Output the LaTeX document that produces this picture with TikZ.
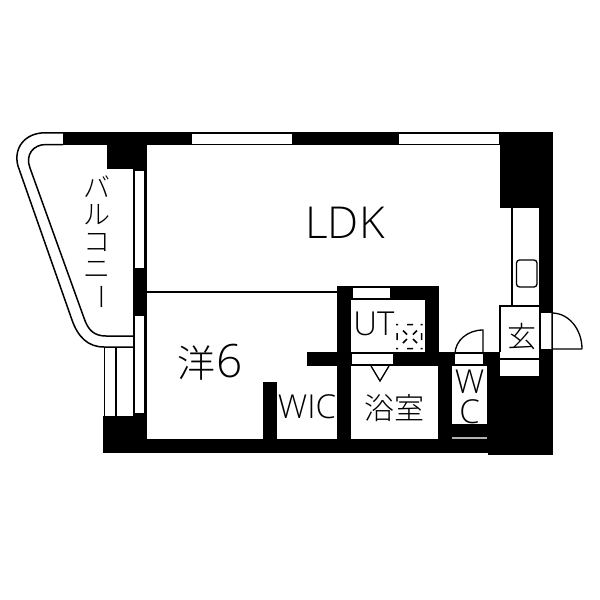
\documentclass[tikz,border=0pt]{standalone}
\usepackage{fontspec}
\setmainfont{Open Sans Light}
\newfontfamily\cjk{Noto Sans CJK JP Light}
\tikzset{
  solid wall/.style={fill=black,draw=none},
  pane/.style={fill=white,draw=none},
  thin line/.style={draw=black,line width=1.3pt},
  pan mark/.style={draw=black,line width=1.5pt},
  room label/.style={inner sep=0pt,text=black,font=#1},
}
\begin{document}
\begin{tikzpicture}[x=1pt,y=-1pt]
\useasboundingbox[fill=white] (0,0) rectangle (600,600);
% walls
\fill[solid wall] (63,132) rectangle (553,145);
\fill[solid wall] (107,132) rectangle (147,169);
\fill[solid wall] (133,169) rectangle (147,416);
\fill[solid wall] (103,416) rectangle (147,453);
\fill[solid wall] (103,439) rectangle (490,453);
\fill[solid wall] (488,376) rectangle (553,455);
\fill[solid wall] (500,132) rectangle (553,208);
\fill[solid wall] (539,208) rectangle (553,376);
\fill[solid wall] (337,286) rectangle (351,439);
\fill[solid wall] (337,286) rectangle (439,300);
\fill[solid wall] (425,286) rectangle (439,352);
\fill[solid wall] (307,352) rectangle (500,366);
\fill[solid wall] (438,352) rectangle (452,439);
\fill[solid wall] (263,382) rectangle (277,439);
\fill[solid wall] (452,424) rectangle (490,439);
\fill[solid wall] (487,366) rectangle (500,439);
% top windows
\fill[pane] (192,134) rectangle (292,143.5);
\fill[pane] (399,134) rectangle (499,143.5);
% left windows
\fill[pane] (134.5,171) rectangle (144,268);
\fill[pane] (134.5,316) rectangle (144,413);
% inner windows
\fill[pane] (353,288) rectangle (390,298);
\fill[pane] (352,353.5) rectangle (393,364);
\fill[pane] (455,354) rectangle (483,363.5);
% genkan
\fill[pane] (501,307) rectangle (539,376);
\fill[pane] (541,313) rectangle (552,349);
\draw[thin line] (500,352) -- (500,306) -- (539,306);
\draw[thin line] (500,359) -- (539,359);
% kitchen
\draw[thin line] (512,208) -- (512,306);
\draw[thin line,rounded corners=3pt] (516.5,260) rectangle (537,287);
% front door
\draw[thin line] (582,349) -- (552,349) -- (552,313) arc[start angle=90,end angle=0,x radius=30,y radius=-36];
% WC door
\draw[thin line] (483,354) -- (483,330) arc[start angle=90,end angle=180,x radius=28,y radius=-24];
% WC floor line
\draw[draw=black!30,line width=1.2pt] (452,438) -- (487,438);
% partition LDK
\draw[thin line] (147,292) -- (337,292);
% balcony
\draw[thin line,line width=1.5pt] (63,132.8) -- (45,132.8) .. controls (25,132.8) and (13,148) .. (18,166) -- (72,320) .. controls (78,337) and (88,347) .. (104,347) -- (133,347);
\draw[thin line,line width=1.5pt] (63,144.5) -- (46,144.5) .. controls (33,144.5) and (25,155) .. (30,168) -- (84,318) .. controls (88,330) and (94,336) .. (106,336) -- (133,336);
\draw[thin line] (104.5,347) -- (104.5,416);
\draw[thin line] (116,347) -- (116,416);
% bath triangle
\draw[thin line] (371,366) -- (380,381) -- (389,366);
% washer pan
\draw[pan mark] (396.2,324.5) -- (398.2,324.5) (407,324.5) -- (413,324.5) (420.5,324.5) -- (422.5,324.5)
  (396.2,348.5) -- (398.2,348.5) (407,348.5) -- (413,348.5) (420.5,348.5) -- (422.5,348.5)
  (397,333) -- (397,340) (421.5,333) -- (421.5,340)
  (403,330.5) -- (407,334.5) (417,330.5) -- (413,334.5)
  (403,343) -- (407,339) (417,343) -- (413,339);
% text
\node[room label={\fontsize{44}{44}\selectfont}] (ldk) at (345,223) {LDK};
\node[room label={\cjk\fontsize{38}{38}\selectfont}] (yo) at (196,363) {洋};
\node[room label={\fontsize{46}{46}\selectfont}] (six) at (229.5,361) {6};
\node[room label={\fontsize{33}{33}\selectfont}] (ut) at (374,324) {UT};
\node[room label={\fontsize{33}{33}\selectfont}] (wic) at (307,407) {WIC};
\node[room label={\cjk\fontsize{30}{30}\selectfont}] (bath) at (394,408) {浴室};
\node[room label={\fontsize{33}{33}\selectfont}] (w) at (469.5,382) {W};
\node[room label={\fontsize{33}{33}\selectfont}] (c) at (469.5,412) {C};
\node[room label={\cjk\fontsize{29}{29}\selectfont}] (gen) at (522,337) {玄};
\node[room label={\cjk\fontsize{27}{27}\selectfont}] (b1) at (97,187) {バ};
\node[room label={\cjk\fontsize{27}{27}\selectfont}] (b2) at (97,214.5) {ル};
\node[room label={\cjk\fontsize{27}{27}\selectfont}] (b3) at (97,242) {コ};
\node[room label={\cjk\fontsize{27}{27}\selectfont}] (b4) at (97,269.5) {ニ};
\node[room label={\cjk\fontsize{27}{27}\selectfont},rotate=-90] (b5) at (97,297) {ー};
\end{tikzpicture}
\end{document}
